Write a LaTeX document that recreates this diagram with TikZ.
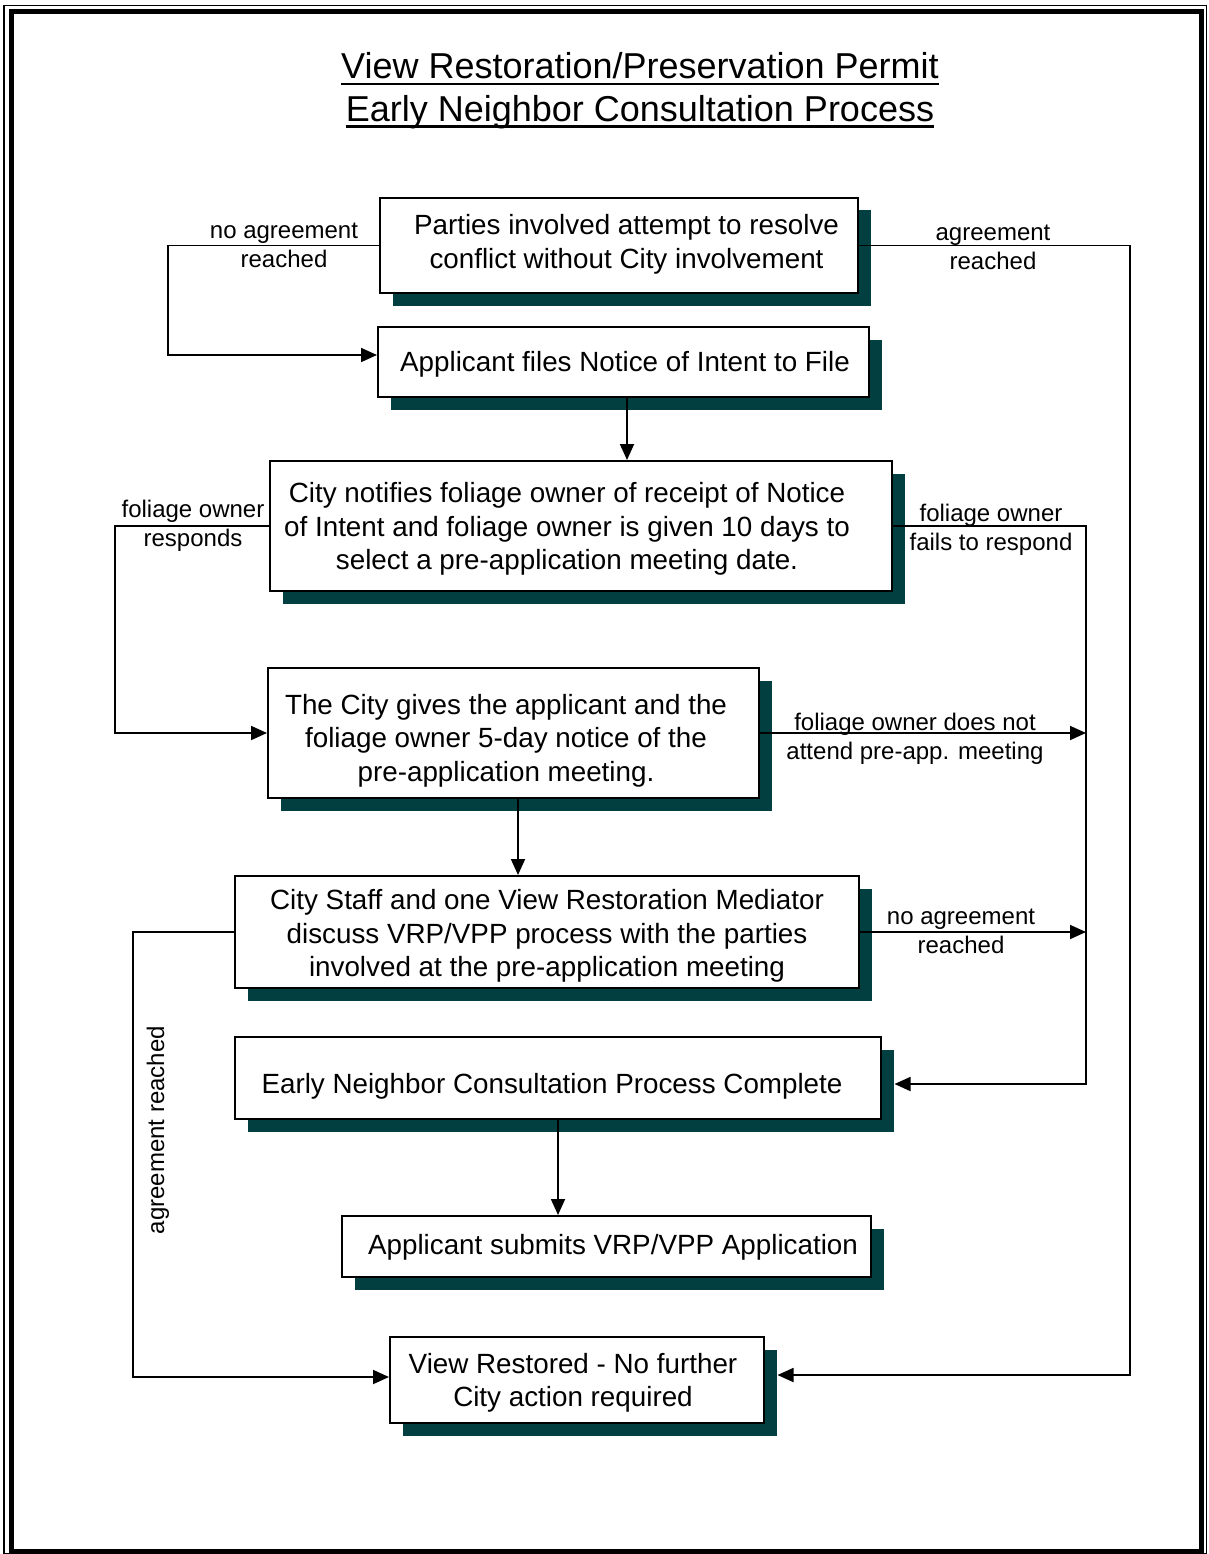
\documentclass[tikz,border=0pt]{standalone}
\usepackage{fontspec}
\setmainfont{Liberation Sans}
\usetikzlibrary{arrows.meta,shadows}
\definecolor{shadowc}{RGB}{2,63,64}
\begin{document}
\begin{tikzpicture}[x=1pt,y=-1pt,
  box/.style={draw,line width=2pt,fill=white,rectangle,inner sep=0pt,
    drop shadow={shadow xshift=12.5pt,shadow yshift=-12.5pt,fill=shadowc,opacity=1}},
  btext/.style={align=center,font=\fontsize{27.8}{33.4}\selectfont,inner sep=0pt},
  lbl/.style={align=center,font=\fontsize{24}{29}\selectfont,inner sep=0pt},
  ttl/.style={font=\fontsize{36}{43}\selectfont,inner sep=0pt,anchor=base},
  conn/.style={line width=1.8pt},
  arr/.style={conn,-{Triangle[length=16pt,width=14pt]}}]
\useasboundingbox (0,0) rectangle (1208,1554);
% page border
\draw[line width=1.5pt] (4,5.5) rectangle (1206.5,1553.5);
\draw[line width=5pt] (11,11.5) rectangle (1201,1551.5);
% title
\node[ttl] (ti1) at (640,79) {View Restoration/Preservation Permit};
\node[ttl] (ti2) at (640,121.5) {Early Neighbor Consultation Process};
\draw[line width=2.5pt] ([yshift=-5pt]ti1.base west) -- ([yshift=-5pt]ti1.base east);
\draw[line width=2.5pt] ([yshift=-5pt]ti2.base west) -- ([yshift=-5pt]ti2.base east);
% boxes
\node[box,minimum width=478pt,minimum height=95pt] (b1) at (619,245.5) {};
\node[box,minimum width=491pt,minimum height=70pt] (b2) at (623.5,362) {};
\node[box,minimum width=622pt,minimum height=130pt] (b3) at (581,526) {};
\node[box,minimum width=491pt,minimum height=130pt] (b4) at (513.5,733) {};
\node[box,minimum width=624pt,minimum height=112pt] (b5) at (547,932) {};
\node[box,minimum width=646pt,minimum height=82pt] (b6) at (558,1078) {};
\node[box,minimum width=529pt,minimum height=61pt] (b7) at (606.5,1246.5) {};
\node[box,minimum width=374pt,minimum height=86pt] (b8) at (577,1380) {};
% box texts
\node[btext] (t1) at (626.5,244.5) {Parties involved attempt to resolve\\conflict without City involvement};
\node[btext] (t2) at (625,364.5) {Applicant files Notice of Intent to File};
\node[btext] (t3) at (567,529) {City notifies foliage owner of receipt of Notice\\of Intent and foliage owner is given 10 days to\\select a pre-application meeting date.};
\node[btext] (t4) at (506,740.5) {The City gives the applicant and the\\foliage owner 5-day notice of the\\pre-application meeting.};
\node[btext] (t5) at (547,936) {City Staff and one View Restoration Mediator\\discuss VRP/VPP process with the parties\\involved at the pre-application meeting};
\node[btext] (t6) at (552,1086.5) {Early Neighbor Consultation Process Complete};
\node[btext] (t7) at (613,1247.5) {Applicant submits VRP/VPP Application};
\node[btext] (t8) at (573,1383) {View Restored - No further\\City action required};
% helper coordinates
\coordinate (c1) at (168,355);
\coordinate (c2) at (1130,1375);
\coordinate (c3) at (115,733);
\coordinate (c4) at (1086,1084);
\coordinate (c5) at (133,1377);
\coordinate (b8s) at ([xshift=12.5pt]b8.east);
\coordinate (b6s) at ([xshift=12.5pt]b6.east);
\coordinate (v1) at ([xshift=3.5pt]b2.south);
\coordinate (v2) at ([xshift=4.5pt]b4.south);
% connectors
\draw[arr] (b1.west) -| (c1) -- (c1 -| b2.west);
\draw[arr] (b1.east) -| (c2) -- (c2 -| b8s);
\draw[arr] (v1) -- (v1 |- b3.north);
\draw[arr] (b3.west) -| (c3) -- (b4.west);
\draw[arr] (b3.east) -| (c4) -- (c4 -| b6s);
\draw[arr] (b4.east) -- (b4.east -| c4);
\draw[arr] (v2) -- (v2 |- b5.north);
\draw[arr] (b5.east) -- (b5.east -| c4);
\draw[arr] (b5.west) -| (c5) -- (c5 -| b8.west);
\draw[arr] (b6.south) -- (b6.south |- b7.north);
% labels
\node[lbl] (l1) at (284,245.5) {no agreement\\reached};
\node[lbl] (l2) at (993,247.5) {agreement\\reached};
\node[lbl] (l3) at (193,526) {foliage owner\\responds};
\node[lbl] (l4) at (991,529.5) {foliage owner\\fails to respond};
\node[lbl] (l5) at (915,738.5) {foliage owner does not\\attend pre-app. meeting};
\node[lbl] (l6) at (961,931) {no agreement\\reached};
\node[lbl,rotate=90] (l7) at (158,1130) {agreement reached};
\end{tikzpicture}
\end{document}
